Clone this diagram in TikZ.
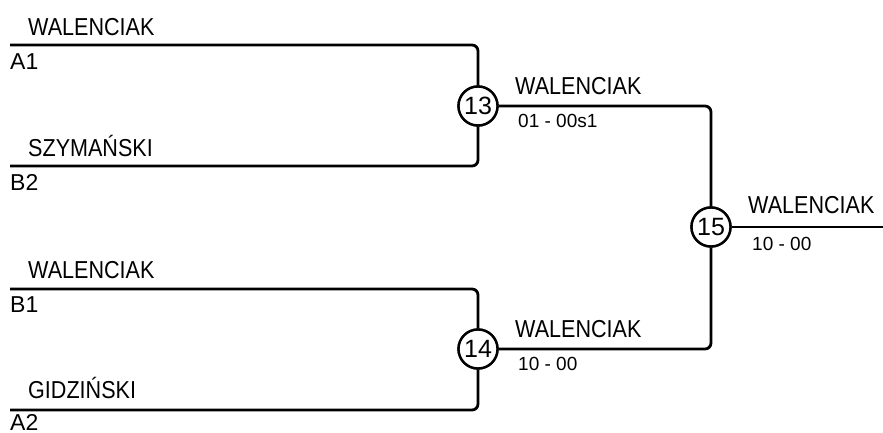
\documentclass[tikz,border=0pt]{standalone}
\usepackage{fontspec}
\setmainfont{Liberation Sans}
\newfontfamily\namefont{Liberation Sans}[FakeStretch=0.88]
\tikzset{
  wire/.style={line width=2.8pt, rounded corners=6pt},
  match/.style={circle, draw, line width=2.4pt, minimum size=39pt, inner sep=0pt, fill=white, font=\fontsize{25}{25}\selectfont},
  player/.style={anchor=base west, inner sep=0pt, font=\namefont\fontsize{24.5}{24.5}\selectfont},
  seed/.style={anchor=base west, inner sep=0pt, font=\fontsize{23}{23}\selectfont},
  score/.style={anchor=base west, inner sep=0pt, font=\fontsize{19}{19}\selectfont},
}
\begin{document}
\begin{tikzpicture}[x=1pt, y=-1pt]
  \useasboundingbox (0,0) rectangle (883,433);

  % Match nodes
  \node[match] (m13) at (478,106) {13};
  \node[match] (m14) at (478,349) {14};
  \node[match] (m15) at (711,227) {15};

  % Start points of the first round
  \coordinate (a1) at (10,45);
  \coordinate (b2) at (10,166);
  \coordinate (b1) at (10,289);
  \coordinate (a2) at (10,410);
  \coordinate (end) at (883,227);

  % Bracket lines
  \draw[wire] (a1) -| (m13);
  \draw[wire] (b2) -| (m13);
  \draw[wire] (b1) -| (m14);
  \draw[wire] (a2) -| (m14);
  \draw[wire] (m13) -| (m15);
  \draw[wire] (m14) -| (m15);
  \draw[wire] (m15) -- (end);

  % Redraw circles on top
  \node[match] at (m13) {13};
  \node[match] at (m14) {14};
  \node[match] at (m15) {15};

  % First round players and seeds
  \node[player] (p1) at (28,36) {WALENCIAK};
  \node[seed] (s1) at (10,70) {A1};
  \node[player] (p2) at (28,157) {SZYMAŃSKI};
  \node[seed] (s2) at (10,190) {B2};
  \node[player] (p3) at (28,278) {WALENCIAK};
  \node[seed] (s3) at (10,312) {B1};
  \node[player] (p4) at (28,398) {GIDZIŃSKI};
  \node[seed] (s4) at (10,430) {A2};

  % Winners and scores
  \node[player] (w13) at (515,95) {WALENCIAK};
  \node[score] (r13) at (518,128) {01 - 00s1};
  \node[player] (w14) at (515,337) {WALENCIAK};
  \node[score] (r14) at (518,370) {10 - 00};
  \node[player] (w15) at (748,213) {WALENCIAK};
  \node[score] (r15) at (752,250) {10 - 00};
\end{tikzpicture}
\end{document}
